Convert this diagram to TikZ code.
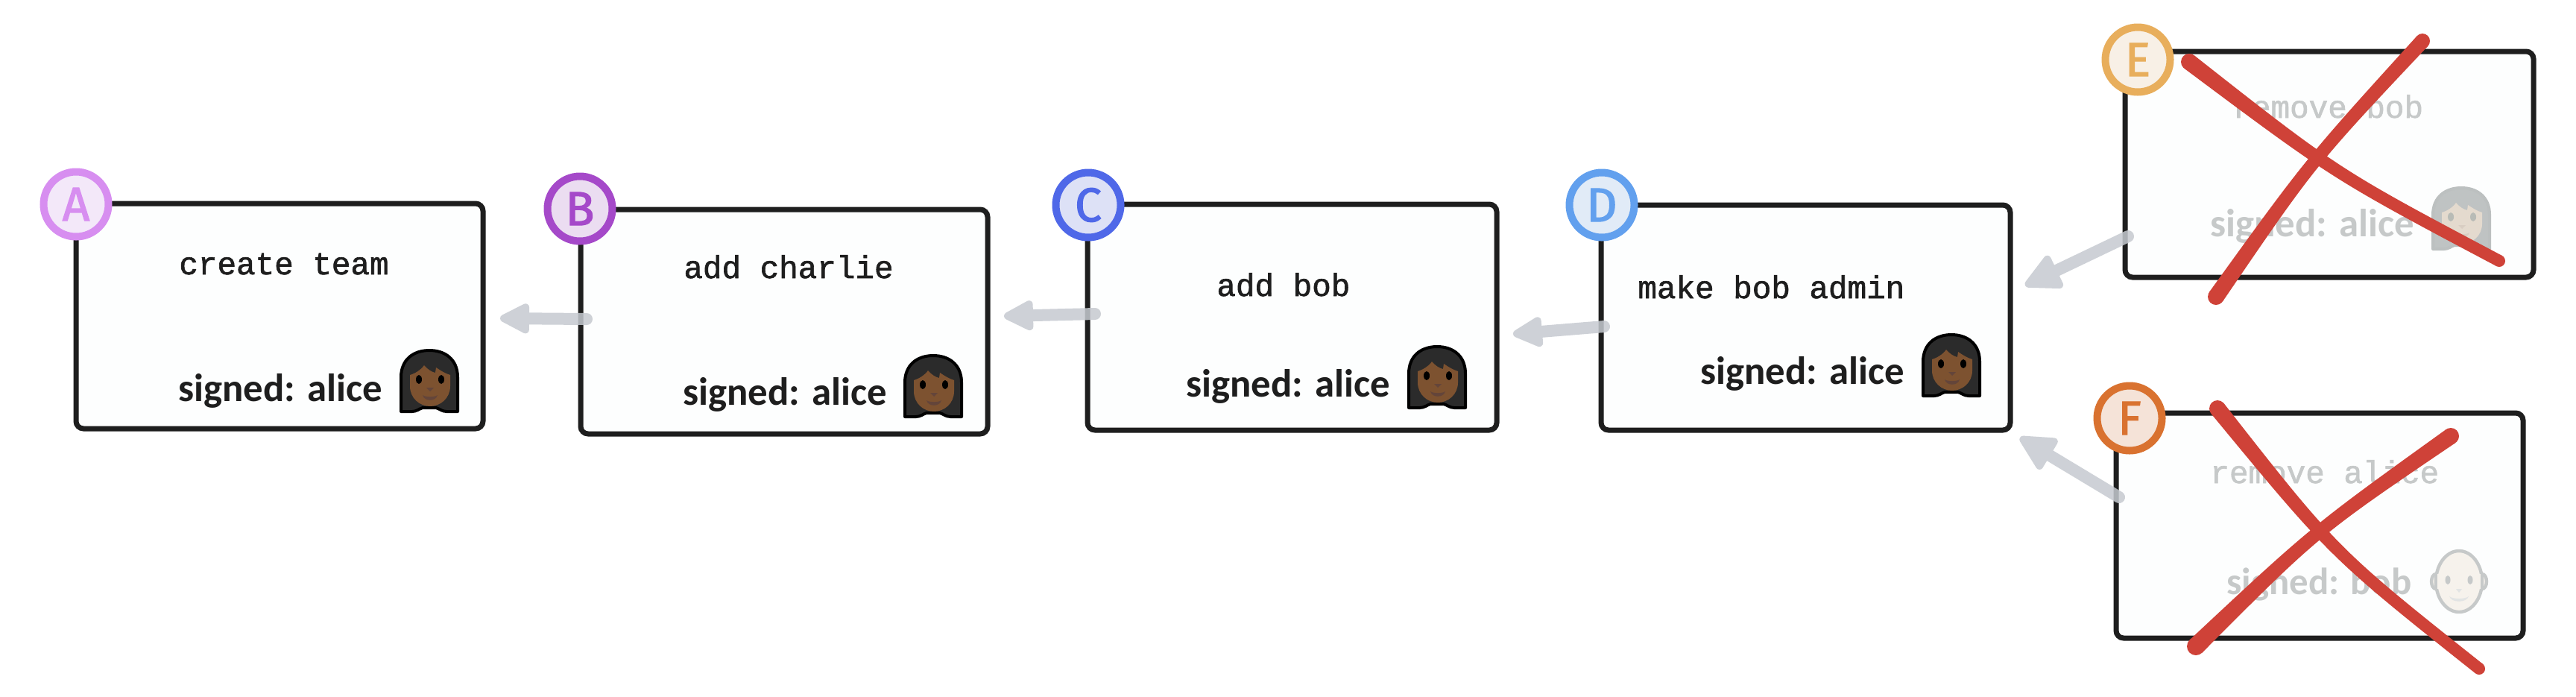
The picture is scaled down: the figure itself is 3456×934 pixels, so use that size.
\documentclass[tikz,border=0pt]{standalone}
\usepackage{fontspec}
\usetikzlibrary{calc}
\newfontfamily\monof[FakeBold=1.5]{Liberation Mono}
\newfontfamily\handf{Carlito}
\newfontfamily\badgef[FakeBold=2]{Fira Sans}
\definecolor{ink}{HTML}{1E1E1E}
\definecolor{paper}{HTML}{FDFEFE}
\definecolor{ghost}{HTML}{C6C9C9}
\definecolor{linkgray}{HTML}{C6CAD0}
\definecolor{xred}{HTML}{CF4238}
\definecolor{ringA}{HTML}{D78EF0}\definecolor{fillA}{HTML}{F3E8F9}
\definecolor{ringB}{HTML}{A549C9}\definecolor{fillB}{HTML}{EBDDF1}
\definecolor{ringC}{HTML}{4F68E8}\definecolor{fillC}{HTML}{DDE1F6}
\definecolor{ringD}{HTML}{62A0EE}\definecolor{fillD}{HTML}{E1EBF7}
\definecolor{ringE}{HTML}{E8AE5C}\definecolor{fillE}{HTML}{F8F0E6}
\definecolor{ringF}{HTML}{D97230}\definecolor{fillF}{HTML}{F5E3D8}
\definecolor{baldskin}{HTML}{F6F2EC}
\tikzset{
  card/.style={draw=ink,fill=paper,line width=3.5pt,rounded corners=5pt,minimum width=#1,inner sep=0pt,outer sep=0pt,anchor=north west},
  badge/.style={circle,draw=ring#1,fill=fill#1,text=ring#1,line width=5pt,minimum size=43.5pt,inner sep=0pt,font=\badgef\fontsize{32}{32}\selectfont},
  op/.style={anchor=base west,inner sep=0pt,text=ink,font=\monof\fontsize{21.3}{25}\selectfont},
  sig/.style={anchor=base west,inner sep=0pt,text=ink,font=\handf\bfseries\fontsize{26.4}{30}\selectfont},
  ghostop/.style={op,text=ghost},
  ghostsig/.style={sig,text=ghost},
  ghostsigb/.style={ghostsig,font=\handf\bfseries\fontsize{25.4}{30}\selectfont},
}
% hand-sized card: left, top, right, bottom in pixels
\newcommand\cardbox[5]{%
  \node[card=#4*0.5pt-#2*0.5pt,minimum height=#5*0.5pt-#3*0.5pt] (#1) at (#2,#3) {};}
% woman emoji; #1,#2 top-left corner in pixels
\newcommand\womanemoji[2]{%
  \begin{scope}[shift={(#1,#2)}]
    \filldraw[draw=eline,fill=ehair,line width=2pt,line join=round]
      (1,84) -- (1,38) .. controls (1,14) and (18,2) .. (39,2) .. controls (60,2) and (77,14) .. (77,38) -- (77,84)
      -- (62,84) .. controls (56,84) and (52,80) .. (48,79) -- (30,79) .. controls (26,80) and (22,84) .. (16,84) -- cycle;
    \fill[eface] (13,35) .. controls (20,33) and (28,28) .. (32,22) .. controls (36,27) and (42,31) .. (47,32) -- (48,25)
      .. controls (54,29) and (60,33) .. (67,35) -- (67,50) .. controls (67,66) and (54,77) .. (40,77)
      .. controls (26,77) and (13,66) .. (13,50) -- cycle;
    \fill[eeye] (25,41) ellipse [x radius=4,y radius=6];
    \fill[eeye] (55,41) ellipse [x radius=4,y radius=6];
    \fill[enose] (35,52) -- (45,52) -- (40,57) -- cycle;
    \fill[enose] (30,62) .. controls (34,65) and (46,65) .. (50,62) .. controls (48,71) and (32,71) .. (30,62) -- cycle;
  \end{scope}}
% red tapered stroke: a, control, b, half widths at a and b (pixels)
\newcommand\xstroke[5]{%
  \coordinate (xa) at #1; \coordinate (xc) at #2; \coordinate (xb) at #3;
  \coordinate (xa1) at ($(xa)!#4*0.5pt!90:(xc)$);
  \coordinate (xa2) at ($(xa)!#4*0.5pt!-90:(xc)$);
  \coordinate (xb1) at ($(xb)!#5*0.5pt!-90:(xc)$);
  \coordinate (xb2) at ($(xb)!#5*0.5pt!90:(xc)$);
  \fill[xred] (xa1) .. controls ($(xc)!4pt!90:(xb)$) .. (xb1) -- (xb2) .. controls ($(xc)!4pt!-90:(xb)$) .. (xa2) -- cycle;
  \fill[xred] (xa) circle [radius=#4*0.5pt];
  \fill[xred] (xb) circle [radius=#5*0.5pt];}
% grey link: from, to, head length, head half width (pixels)
\newcommand\linkarrow[4]{%
  \begin{scope}[transparency group,opacity=.85]
    \coordinate (hc) at ($(#2)!#3*0.5pt!(#1)$);
    \draw[linkgray,line width=8pt,line cap=round] (#1) -- (hc);
    \filldraw[draw=linkgray,fill=linkgray,line width=5pt,line join=round]
      ($(#2)!2.5pt!(#1)$) -- ($(hc)!#4*0.5pt!90:(#2)$) -- ($(hc)!#4*0.5pt!-90:(#2)$) -- cycle;
  \end{scope}}
\begin{document}
\begin{tikzpicture}[x=0.5pt,y=-0.5pt]
\useasboundingbox (0,0) rectangle (3456,934);
\fill[white] (0,0) rectangle (3456,934);

\cardbox{cardA}{102}{273}{648}{575}
\cardbox{cardB}{779}{281}{1325}{582}
\cardbox{cardC}{1459}{274}{2008}{577}
\cardbox{cardD}{2148}{275}{2697}{577}
\cardbox{cardE}{2851}{69}{3399}{372}
\cardbox{cardF}{2839}{554}{3385}{856}

\node[badge=A] (badgeA) at (102,274) {A};
\node[badge=B] (badgeB) at (778,280) {B};
\node[badge=C] (badgeC) at (1460,275) {C};
\node[badge=D] (badgeD) at (2149,275) {D};
\node[badge=E] (badgeE) at (2868,80) {E};
\node[badge=F] (badgeF) at (2857,561) {F};

\node[op] (opA) at (240,368) {create team};
\node[op] (opB) at (917,373) {add charlie};
\node[op] (opC) at (1632,397) {add bob};
\node[op] (opD) at (2197,400) {make bob admin};
\node[ghostop] (opE) at (2995,158) {remove bob};
\node[ghostop] (opF) at (2965,648) {remove alice};

\node[sig] (sigA) at (239,538) {signed: alice};
\node[sig] (sigB) at (916,543) {signed: alice};
\node[sig] (sigC) at (1591,532) {signed: alice};
\node[sig] (sigD) at (2281,515) {signed: alice};
\node[ghostsig] (sigE) at (2965,317) {signed: alice};
\node[ghostsigb] (sigF) at (2987,797) {signed: bob};

\colorlet{eline}{black}\colorlet{ehair}{black!83}\definecolor{eface}{HTML}{7D5230}
\colorlet{eeye}{black}\definecolor{enose}{HTML}{64453A}
\womanemoji{537}{468}
\womanemoji{1213}{475}
\womanemoji{1889}{463}
\womanemoji{2579}{447}

\definecolor{eline}{HTML}{BCC0C0}\definecolor{ehair}{HTML}{BFC3C3}\definecolor{eface}{HTML}{E4DACE}
\definecolor{eeye}{HTML}{B8BBB6}\definecolor{enose}{HTML}{D8CDC2}
\womanemoji{3263}{250}

% bald face emoji
\begin{scope}[shift={(3299,780)}]
  \filldraw[draw=ghost,fill=baldskin,line width=2.2pt] (-31,0) ellipse [x radius=6,y radius=10];
  \filldraw[draw=ghost,fill=baldskin,line width=2.2pt] (31,0) ellipse [x radius=6,y radius=10];
  \filldraw[draw=ghost,fill=baldskin,line width=2.2pt] (0,0) ellipse [x radius=31,y radius=41];
  \fill[baldskin] (-29,-10) rectangle (29,10);
  \fill[ghost] (-15,-2) ellipse [x radius=3.5,y radius=6];
  \fill[ghost] (15,-2) ellipse [x radius=3.5,y radius=6];
  \fill[ghost!50!white] (-4,10) -- (4,10) -- (0,15) -- cycle;
  \fill[ghost!50!white] (-13,20) .. controls (-8,24) and (8,24) .. (13,20) .. controls (10,29) and (-10,29) .. (-13,20) -- cycle;
\end{scope}

\coordinate (linkBt) at (787,428);  \coordinate (linkAh) at (671,427);
\coordinate (linkCt) at (1469,421); \coordinate (linkBh) at (1347,424);
\coordinate (linkDt) at (2152,438); \coordinate (linkCh) at (2030,448);
\coordinate (linkEt) at (2855,317); \coordinate (linkDh) at (2717,383);
\coordinate (linkFt) at (2843,667); \coordinate (linkDg) at (2710,587);
\linkarrow{linkBt}{linkAh}{34}{15}
\linkarrow{linkCt}{linkBh}{34}{15}
\linkarrow{linkDt}{linkCh}{34}{15}
\linkarrow{linkEt}{linkDh}{42}{19}
\linkarrow{linkFt}{linkDg}{42}{19}

\xstroke{(2937,83)}{(3134,234)}{(3353,350)}{11}{8}
\xstroke{(3250,55)}{(3100,217)}{(2973,398)}{10}{11}
\xstroke{(2975,548)}{(3131,742)}{(3326,897)}{11}{8}
\xstroke{(3288,585)}{(3106,712)}{(2946,867)}{11}{12}
\end{tikzpicture}
\end{document}
